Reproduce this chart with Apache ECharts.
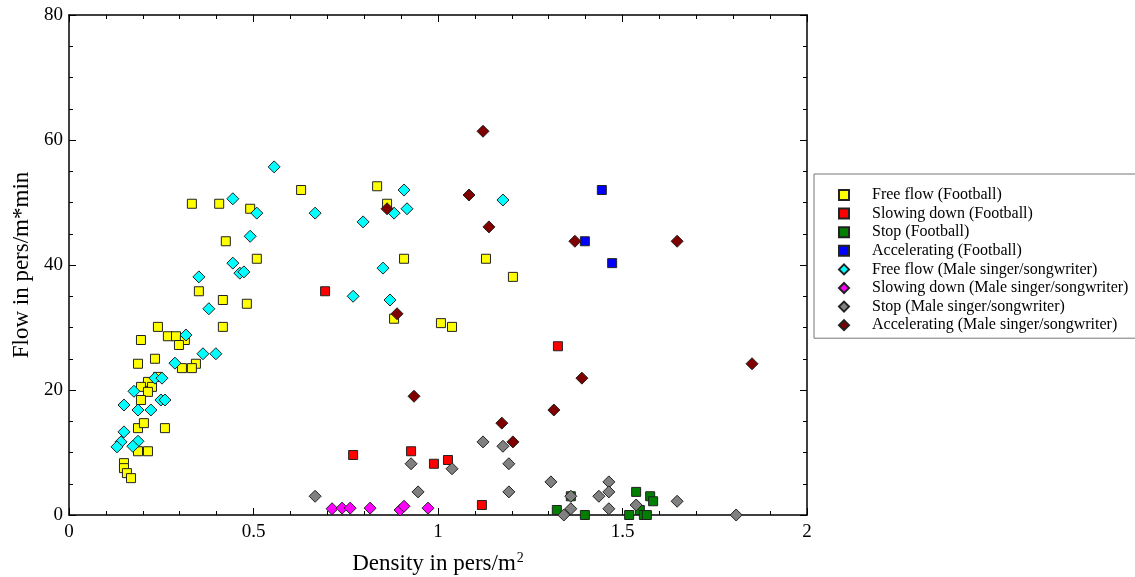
<!DOCTYPE html>
<html>
<head>
<meta charset="utf-8">
<script src="https://cdn.jsdelivr.net/npm/echarts@6/dist/echarts.min.js"></script>
<style>
  html, body { margin: 0; padding: 0; background: #fff; }
  #chart { width: 1135px; height: 577px; }
</style>
</head>
<body>
<div id="chart"></div>
<script>
// [density, flow] pairs
const freeFlowFootball = [
  [0.333, 49.8], [0.407, 49.8], [0.491, 49.0], [0.425, 43.8], [0.509, 41.0],
  [0.352, 35.8], [0.417, 34.4], [0.482, 33.8], [0.241, 30.1], [0.268, 28.6],
  [0.290, 28.6], [0.417, 30.1], [0.195, 28.0], [0.314, 28.0], [0.629, 52.0],
  [0.835, 52.6], [0.862, 49.8], [0.908, 41.0], [1.130, 41.0], [1.203, 38.1],
  [0.881, 31.4], [1.008, 30.7], [1.038, 30.1], [0.298, 27.2], [0.233, 25.0],
  [0.187, 24.2], [0.344, 24.2], [0.306, 23.5], [0.333, 23.5], [0.241, 22.1],
  [0.214, 21.3], [0.195, 20.5], [0.225, 20.5], [0.214, 19.7], [0.195, 18.4],
  [0.187, 13.9], [0.203, 14.7], [0.260, 13.9], [0.187, 10.2], [0.214, 10.2],
  [0.149, 8.3], [0.149, 7.5], [0.157, 6.7], [0.168, 5.9]
]
const slowingFootball = [
  [0.694, 35.8], [1.325, 27.0], [0.770, 9.6], [0.927, 10.2], [0.989, 8.2],
  [1.027, 8.8], [1.119, 1.6]
]
const stopFootball = [
  [1.322, 0.8], [1.360, 3.0], [1.398, 0], [1.518, 0], [1.537, 3.7],
  [1.547, 0.8], [1.558, 0], [1.566, 0], [1.575, 3.0], [1.583, 2.2]
]
const accelFootball = [
  [1.444, 52.0], [1.398, 43.8], [1.472, 40.3]
]
const freeFlowSinger = [
  [0.444, 50.6], [0.509, 48.3], [0.491, 44.6], [0.444, 40.3], [0.463, 38.7],
  [0.474, 38.9], [0.352, 38.1], [0.379, 33.0], [0.317, 28.8], [0.556, 55.7],
  [0.908, 52.0], [0.667, 48.3], [0.797, 46.9], [0.881, 48.3], [0.916, 49.0],
  [1.176, 50.4], [0.851, 39.5], [0.770, 35.0], [0.870, 34.4], [0.363, 25.8],
  [0.398, 25.8], [0.287, 24.3], [0.233, 21.9], [0.252, 21.9], [0.176, 19.8],
  [0.149, 17.6], [0.187, 16.8], [0.222, 16.8], [0.249, 18.4], [0.260, 18.4],
  [0.149, 13.3], [0.141, 11.7], [0.130, 10.9], [0.187, 11.8], [0.173, 11.0]
]
const slowingSinger = [
  [0.713, 1.0], [0.740, 1.1], [0.762, 1.1], [0.816, 1.1], [0.897, 0.8],
  [0.908, 1.4], [0.973, 1.1]
]
const stopSinger = [
  [0.667, 3.0], [0.927, 8.2], [1.038, 7.4], [0.946, 3.7], [1.122, 11.7],
  [1.176, 11.0], [1.192, 8.2], [1.192, 3.7], [1.306, 5.3], [1.341, 0],
  [1.360, 1.0], [1.360, 3.0], [1.436, 3.0], [1.463, 5.3], [1.463, 3.7],
  [1.463, 1.0], [1.537, 1.6], [1.648, 2.2], [1.808, 0]
]
const accelSinger = [
  [1.122, 61.4], [1.084, 51.2], [1.138, 46.1], [1.371, 43.8], [1.648, 43.8],
  [0.862, 49.0], [0.889, 32.2], [0.935, 19.0], [1.851, 24.2], [1.390, 21.9],
  [1.314, 16.8], [1.173, 14.7], [1.203, 11.7]
]

const seriesDefs = [
  { name: 'Free flow (Football)', data: freeFlowFootball, color: '#ffff00', symbol: 'rect' },
  { name: 'Slowing down (Football)', data: slowingFootball, color: '#ff0000', symbol: 'rect' },
  { name: 'Stop (Football)', data: stopFootball, color: '#007f00', symbol: 'rect' },
  { name: 'Accelerating (Football)', data: accelFootball, color: '#0000ff', symbol: 'rect' },
  { name: 'Free flow (Male singer/songwriter)', data: freeFlowSinger, color: '#00ffff', symbol: 'diamond' },
  { name: 'Slowing down (Male singer/songwriter)', data: slowingSinger, color: '#ff00ff', symbol: 'diamond' },
  { name: 'Stop (Male singer/songwriter)', data: stopSinger, color: '#808080', symbol: 'diamond' },
  { name: 'Accelerating (Male singer/songwriter)', data: accelSinger, color: '#800000', symbol: 'diamond' }
]

const font = '"Liberation Serif", "DejaVu Serif", serif'

const xTicks = {
  axisLine: { onZero: false, lineStyle: { color: '#000', width: 1.5 } },
  axisTick: { inside: true, length: 7, lineStyle: { color: '#000' } },
  minorTick: { show: true, splitNumber: 5, length: 4, lineStyle: { color: '#000' } },
  splitLine: { show: false }
}
const yTicks = {
  axisLine: { onZero: false, lineStyle: { color: '#000', width: 1.5 } },
  axisTick: { inside: true, length: 7, lineStyle: { color: '#000' } },
  minorTick: { show: true, splitNumber: 4, length: 4, lineStyle: { color: '#000' } },
  splitLine: { show: false }
}

const chart = echarts.init(document.getElementById('chart'))

chart.setOption({
  animation: false,
  backgroundColor: '#fff',
  grid: { left: 69, top: 15, width: 738, height: 500, outerBoundsMode: 'none' },
  legend: {
    left: 814,
    top: 174,
    orient: 'vertical',
    padding: [13, 14, 5, 24],
    itemGap: 2.6,
    itemWidth: 10,
    itemHeight: 10,
    borderColor: '#777',
    borderWidth: 1,
    textStyle: { fontFamily: font, fontSize: 16, color: '#000', padding: [0, 0, 0, 18] },
    data: seriesDefs.map(s => s.name)
  },
  xAxis: [
    {
      type: 'value', min: 0, max: 2, interval: 0.5,
      name: 'Density in pers/m{sup|2}',
      nameLocation: 'middle', nameGap: 36,
      nameTextStyle: {
        fontFamily: font, fontSize: 23, color: '#000',
        rich: { sup: { fontFamily: font, fontSize: 14, color: '#000', padding: [0, 0, 12, 1] } }
      },
      axisLabel: { fontFamily: font, fontSize: 19, color: '#000', margin: 8 },
      ...xTicks
    },
    {
      type: 'value', min: 0, max: 2, interval: 0.5, position: 'top',
      axisLabel: { show: false },
      ...xTicks
    }
  ],
  yAxis: [
    {
      type: 'value', min: 0, max: 80, interval: 20,
      name: 'Flow in pers/m*min',
      nameLocation: 'middle', nameGap: 36,
      nameTextStyle: { fontFamily: font, fontSize: 23, color: '#000' },
      axisLabel: { fontFamily: font, fontSize: 19, color: '#000', margin: 6 },
      ...yTicks
    },
    {
      type: 'value', min: 0, max: 80, interval: 20, position: 'right',
      axisLabel: { show: false },
      ...yTicks
    }
  ],
  series: seriesDefs.map(s => ({
    name: s.name,
    type: 'scatter',
    data: s.data,
    symbol: s.symbol,
    symbolSize: s.symbol === 'rect' ? 9 : 12,
    itemStyle: { color: s.color, borderColor: '#222', borderWidth: 1, opacity: 1 }
  }))
})
</script>
</body>
</html>
